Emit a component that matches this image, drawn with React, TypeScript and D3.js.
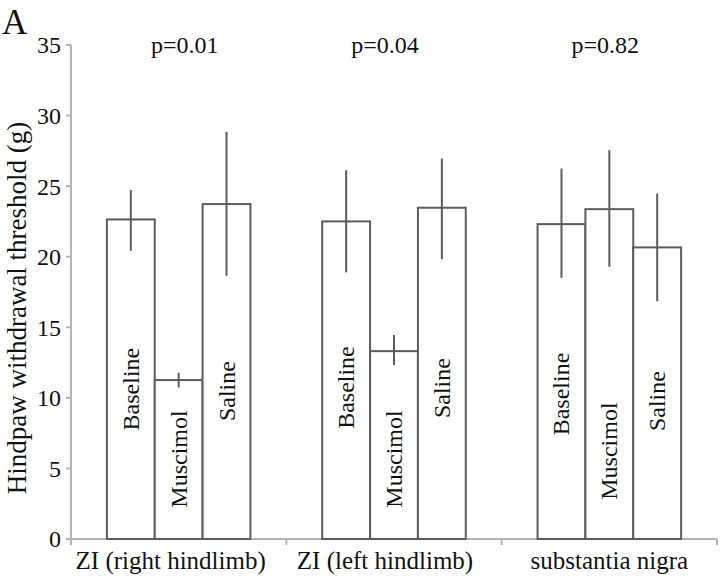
import React from "react";
import * as d3 from "d3";

const categories = ["ZI (right hindlimb)", "ZI (left hindlimb)", "substantia nigra"];
const series = ["Baseline", "Muscimol", "Saline"];
const means = [
  [22.64, 11.26, 23.73],
  [22.5, 13.31, 23.47],
  [22.31, 23.37, 20.66],
];
const errLow = [
  [20.42, 10.74, 18.65],
  [18.89, 12.32, 19.83],
  [18.51, 19.29, 16.84],
];
const errHigh = [
  [24.72, 11.78, 28.85],
  [26.13, 14.45, 26.96],
  [26.25, 27.55, 24.48],
];
const pValues = ["p=0.01", "p=0.04", "p=0.82"];
const yTicks = [0, 5, 10, 15, 20, 25, 30, 35];
// label centre positions along the value axis (data units)
const labelCenters = [
  [10.62, 5.67, 10.48],
  [10.73, 5.67, 10.69],
  [10.27, 6.23, 9.77],
];
const pOffsets = [6, -9, -4];
const catOffsets = [-8, -9, 0];

const W = 720;
const H = 576;
const FONT = "'Liberation Serif', 'DejaVu Serif', serif";

export default function App() {
  const x = d3.scaleBand<string>().domain(categories).range([71, 717]).paddingInner(0).paddingOuter(0);
  const xi = d3.scaleBand<string>().domain(series).range([0, x.bandwidth()]).paddingInner(0).paddingOuter(0.75);
  const y = d3.scaleLinear().domain([0, 35]).range([539, 45]);
  const axisColor = "#b4b4b4";
  const barColor = "#5c5c5c";

  return (
    <svg width={W} height={H} style={{ position: "absolute", left: 0, top: 0, background: "#fff" }} fontFamily={FONT}>
      <rect x={0} y={0} width={W} height={H} fill="#fff" />
      {/* y axis */}
      <line x1={71} x2={71} y1={y(35)} y2={y(0)} stroke={axisColor} strokeWidth={2} />
      {yTicks.map((t) => (
        <g key={t}>
          <line x1={66} x2={71} y1={y(t)} y2={y(t)} stroke={axisColor} strokeWidth={2} />
          <text x={61} y={y(t)} dy="0.35em" textAnchor="end" fontSize={24} fill="#111">
            {t}
          </text>
        </g>
      ))}
      {/* x axis */}
      <line x1={71} x2={717} y1={y(0)} y2={y(0)} stroke={axisColor} strokeWidth={2} />
      {categories.map((c) => (
        <line key={c} x1={(x(c) as number) + x.bandwidth()} x2={(x(c) as number) + x.bandwidth()} y1={y(0)} y2={y(0) + 6} stroke={axisColor} strokeWidth={2} />
      ))}
      <line x1={71} x2={71} y1={y(0)} y2={y(0) + 6} stroke={axisColor} strokeWidth={2} />
      {categories.map((c, ci) => (
        <text key={c} x={(x(c) as number) + x.bandwidth() / 2 + catOffsets[ci]} y={569} textAnchor="middle" fontSize={25} fill="#111">
          {c}
        </text>
      ))}
      {/* bars */}
      {categories.map((c, ci) => (
        <g key={c} transform={`translate(${x(c)},0)`}>
          {series.map((s, si) => {
            const bx = xi(s) as number;
            const bw = xi.bandwidth();
            const cx = bx + bw / 2;
            const ly = y(labelCenters[ci][si]);
            return (
              <g key={s}>
                <rect x={bx} y={y(means[ci][si])} width={bw} height={y(0) - y(means[ci][si])} fill="#fff" stroke={barColor} strokeWidth={2} />
                <line x1={cx} x2={cx} y1={y(errHigh[ci][si])} y2={y(errLow[ci][si])} stroke={barColor} strokeWidth={2} />
                <text
                  transform={`translate(${cx + 8},${ly}) rotate(-90)`}
                  textAnchor="middle"
                  fontSize={24}
                  fill="#111"
                >
                  {s}
                </text>
              </g>
            );
          })}
        </g>
      ))}
      {/* p values */}
      {categories.map((c, ci) => (
        <text key={c} x={(x(c) as number) + x.bandwidth() / 2 + pOffsets[ci]} y={53} textAnchor="middle" fontSize={24} fill="#111">
          {pValues[ci]}
        </text>
      ))}
      {/* y title */}
      <text transform={`translate(26,308) rotate(-90)`} textAnchor="middle" fontSize={27} fill="#111">
        Hindpaw withdrawal threshold (g)
      </text>
      {/* panel letter */}
      <text x={2} y={34} fontSize={35} fill="#111">
        A
      </text>
    </svg>
  );
}
